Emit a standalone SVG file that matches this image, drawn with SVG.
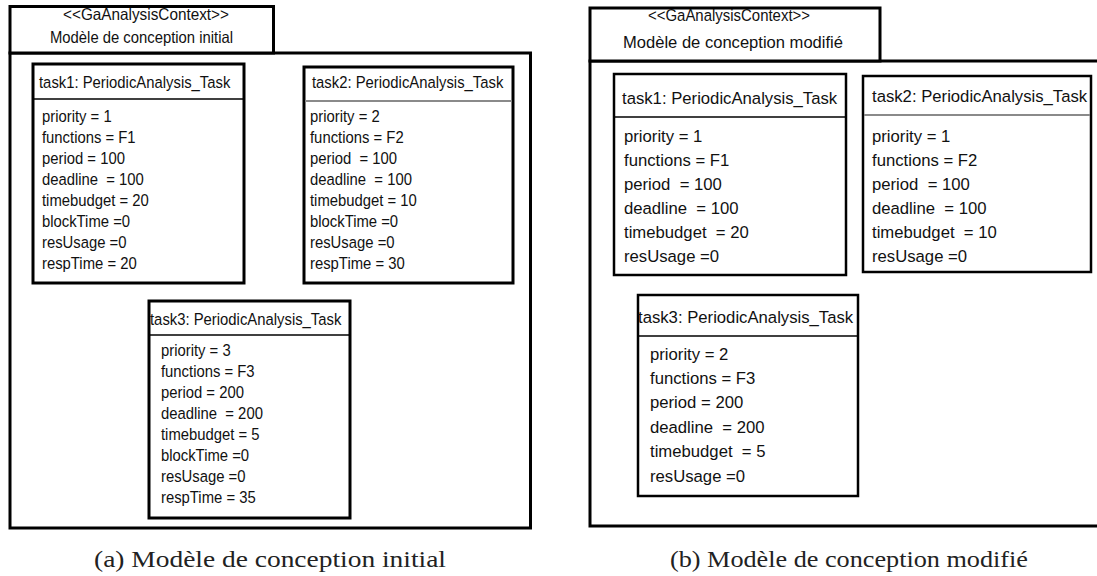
<svg xmlns="http://www.w3.org/2000/svg" width="1097" height="576" viewBox="0 0 1097 576">
<style>
.box{fill:#fff;stroke:#000;stroke-width:3}
.frame{fill:none;stroke:#000;stroke-width:3}
.sep{stroke:#000;stroke-width:1.5}
.sepg{stroke:#8a8a8a;stroke-width:2}
.t{font-family:"Liberation Sans",Arial,sans-serif;fill:#111;white-space:pre}
.l{font-size:16.5px}
.r{font-size:16.7px}
.cap{font-family:"Liberation Serif","Times New Roman",serif;font-size:23px;fill:#222;white-space:pre}
</style>
<rect width="1097" height="576" fill="#fff"/>
<g id="panel-a">
<rect class="frame" x="10" y="53" width="520.5" height="475"/>
<g id="a-header">
<rect class="box" x="10" y="6.5" width="263.5" height="46.5"/>
<text class="t l" x="146" y="20" text-anchor="middle" textLength="166" lengthAdjust="spacingAndGlyphs">&lt;&lt;GaAnalysisContext&gt;&gt;</text>
<text class="t l" x="141.5" y="43" text-anchor="middle" textLength="183" lengthAdjust="spacingAndGlyphs">Modèle de conception initial</text>
</g>
<g id="a-task1">
<rect class="box" x="33" y="64" width="211" height="219"/>
<line class="sep" x1="33" y1="99" x2="244" y2="99"/>
<g transform="translate(39 0) scale(0.9 1)">
<text class="t l" x="0" y="88">task1: PeriodicAnalysis_Task</text>
<text class="t l" x="3.3" y="122">priority = 1</text>
<text class="t l" x="3.3" y="143">functions = F1</text>
<text class="t l" x="3.3" y="164">period = 100</text>
<text class="t l" x="3.3" y="185">deadline  = 100</text>
<text class="t l" x="3.3" y="206">timebudget = 20</text>
<text class="t l" x="3.3" y="227">blockTime =0</text>
<text class="t l" x="3.3" y="248">resUsage =0</text>
<text class="t l" x="3.3" y="269">respTime = 20</text>
</g>
</g>
<g id="a-task2">
<rect class="box" x="304" y="67" width="209" height="216"/>
<line class="sepg" x1="305" y1="101" x2="512" y2="101"/>
<g transform="translate(310 0) scale(0.9 1)">
<text class="t l" x="2.2" y="88">task2: PeriodicAnalysis_Task</text>
<text class="t l" x="0" y="122">priority = 2</text>
<text class="t l" x="0" y="143">functions = F2</text>
<text class="t l" x="0" y="164">period  = 100</text>
<text class="t l" x="0" y="185">deadline  = 100</text>
<text class="t l" x="0" y="206">timebudget = 10</text>
<text class="t l" x="0" y="227">blockTime =0</text>
<text class="t l" x="0" y="248">resUsage =0</text>
<text class="t l" x="0" y="269">respTime = 30</text>
</g>
</g>
<g id="a-task3">
<rect class="box" x="149" y="301" width="201" height="217"/>
<line class="sep" x1="149" y1="335" x2="350" y2="335"/>
<g transform="translate(150 0) scale(0.9 1)">
<text class="t l" x="0" y="325">task3: PeriodicAnalysis_Task</text>
<text class="t l" x="12.2" y="356">priority = 3</text>
<text class="t l" x="12.2" y="377">functions = F3</text>
<text class="t l" x="12.2" y="398">period = 200</text>
<text class="t l" x="12.2" y="419">deadline  = 200</text>
<text class="t l" x="12.2" y="440">timebudget = 5</text>
<text class="t l" x="12.2" y="461">blockTime =0</text>
<text class="t l" x="12.2" y="482">resUsage =0</text>
<text class="t l" x="12.2" y="503">respTime = 35</text>
</g>
</g>
</g>
<g id="panel-b">
<path class="frame" d="M1100 61 H590 V526 H1100"/>
<g id="b-header">
<rect class="box" x="590" y="8" width="290" height="53"/>
<text class="t r" x="729" y="21" text-anchor="middle" textLength="162" lengthAdjust="spacingAndGlyphs">&lt;&lt;GaAnalysisContext&gt;&gt;</text>
<text class="t r" x="733" y="48" text-anchor="middle" textLength="220" lengthAdjust="spacingAndGlyphs">Modèle de conception modifié</text>
</g>
<g id="b-task1">
<rect class="box" x="614" y="74" width="232" height="201" style="stroke-width:2.5"/>
<line class="sep" x1="614" y1="117" x2="846" y2="117"/>
<text class="t r" x="622" y="104">task1: PeriodicAnalysis_Task</text>
<text class="t r" x="624" y="142">priority = 1</text>
<text class="t r" x="624" y="166">functions = F1</text>
<text class="t r" x="624" y="190">period  = 100</text>
<text class="t r" x="624" y="214">deadline  = 100</text>
<text class="t r" x="624" y="238">timebudget  = 20</text>
<text class="t r" x="624" y="262">resUsage =0</text>
</g>
<g id="b-task2">
<rect class="box" x="863" y="76" width="228" height="196" style="stroke-width:2.5"/>
<line class="sepg" x1="864" y1="115" x2="1090" y2="115"/>
<text class="t r" x="872" y="102">task2: PeriodicAnalysis_Task</text>
<text class="t r" x="872" y="142">priority = 1</text>
<text class="t r" x="872" y="166">functions = F2</text>
<text class="t r" x="872" y="190">period  = 100</text>
<text class="t r" x="872" y="214">deadline  = 100</text>
<text class="t r" x="872" y="238">timebudget  = 10</text>
<text class="t r" x="872" y="262">resUsage =0</text>
</g>
<g id="b-task3">
<rect class="box" x="638" y="295" width="220" height="201" style="stroke-width:2.5"/>
<line class="sep" x1="639" y1="336" x2="857" y2="336"/>
<text class="t r" x="638" y="323">task3: PeriodicAnalysis_Task</text>
<text class="t r" x="650" y="360">priority = 2</text>
<text class="t r" x="650" y="384">functions = F3</text>
<text class="t r" x="650" y="408">period = 200</text>
<text class="t r" x="650" y="433">deadline  = 200</text>
<text class="t r" x="650" y="457">timebudget  = 5</text>
<text class="t r" x="650" y="482">resUsage =0</text>
</g>
</g>
<g id="connectors"/>
<g id="captions">
<text class="cap" x="94" y="567" textLength="352" lengthAdjust="spacingAndGlyphs">(a) Modèle de conception initial</text>
<text class="cap" x="670" y="567" textLength="358" lengthAdjust="spacingAndGlyphs">(b) Modèle de conception modifié</text>
</g>
</svg>
